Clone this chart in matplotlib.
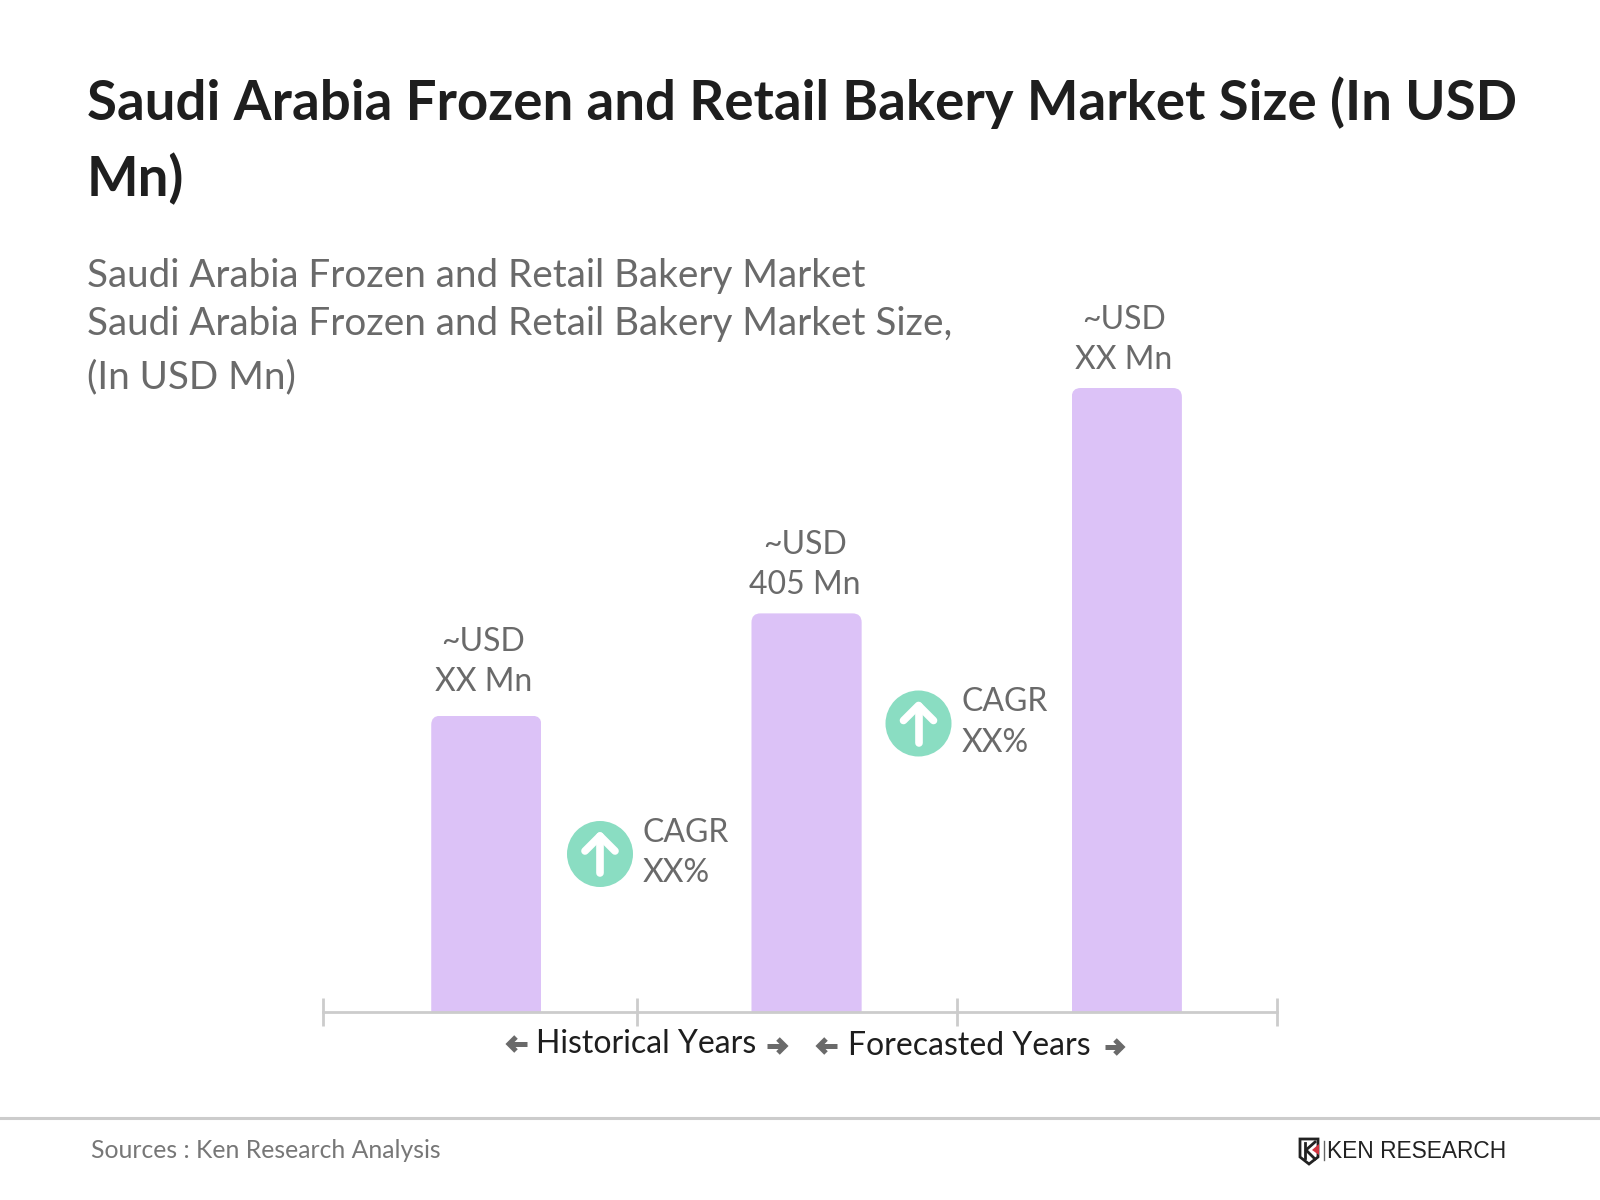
import matplotlib.pyplot as plt
from matplotlib.patches import Circle, FancyBboxPatch, Polygon

plt.rcParams["font.family"] = ["Lato", "DejaVu Sans"]

categories = [0, 1, 2]
values = [301, 405, 634]
bar_labels = ["~USD\nXX Mn", "~USD\n405 Mn", "~USD\nXX Mn"]
tick_positions = [-0.51, 0.472, 1.47, 2.469]
title_lines = ["Saudi Arabia Frozen and Retail Bakery Market Size (In USD", "Mn)"]
subtitle_lines = [
    "Saudi Arabia Frozen and Retail Bakery Market",
    "Saudi Arabia Frozen and Retail Bakery Market Size,",
    "(In USD Mn)",
]
cagr_labels = ["CAGR\nXX%", "CAGR\nXX%"]

PURPLE = "#DCC2F7"
GREEN = "#8ADDC2"
GREY = "#6A6A6A"
DARK = "#1E1E1E"
LINE = "#CCCCCC"

fig = plt.figure(figsize=(16, 12), dpi=100, facecolor="white")

# overlay in pixel coordinates for the page furniture
page = fig.add_axes([0, 0, 1, 1])
page.set_xlim(0, 1600)
page.set_ylim(1200, 0)
page.axis("off")

# chart axes: left 323px, right 1277px, baseline 1012px
ax = fig.add_axes([323 / 1600, (1200 - 1012) / 1200, 954 / 1600, 760 / 1200])
ax.patch.set_visible(False)
ax.set_xlim(-0.51, 2.469)
ax.set_ylim(0, 760 / (1012 - 388) * 634)
for s in ["top", "left", "right"]:
    ax.spines[s].set_visible(False)
ax.spines["bottom"].set_color(LINE)
ax.spines["bottom"].set_linewidth(2)
ax.set_yticks([])
ax.set_xticks(tick_positions)
ax.set_xticklabels([])
ax.tick_params(axis="x", direction="inout", length=20, width=2, color=LINE)

bars = ax.bar(categories, values, width=0.344, color=PURPLE, zorder=1)

# rounded top corners
px_x = 954 / 2.979
px_y = 760 / ax.get_ylim()[1]
for b in bars:
    clip = FancyBboxPatch(
        (b.get_x(), -100),
        b.get_width(),
        b.get_height() + 100,
        boxstyle="round,pad=0,rounding_size=%f" % (9 / px_x),
        mutation_aspect=px_x / px_y,
        transform=ax.transData,
    )
    b.set_clip_path(clip)

label_offsets = [19, 13, 13]
label_shift = [-3, -2, -3]
for x, v, lab, off, dx in zip(categories, values, bar_labels, label_offsets, label_shift):
    ax.annotate(
        lab,
        (x, v),
        xytext=(dx, off),
        textcoords="offset pixels",
        ha="center",
        va="bottom",
        fontsize=23,
        color=GREY,
        linespacing=1.42,
        annotation_clip=False,
    )

# title and subtitle
for y, t in zip([120, 196], title_lines):
    page.text(87, y, t, fontsize=39.3, fontweight="bold", color=DARK, va="baseline")
for y, t in zip([287, 335, 388], subtitle_lines):
    page.text(87, y, t, fontsize=27.85, color=GREY, va="baseline")

# CAGR badges
for (cx, cy), lab in zip([(600, 854), (918.5, 723.5)], cagr_labels):
    page.add_patch(Circle((cx, cy), 33, color=GREEN, lw=0))
    page.plot([cx, cx], [cy - 18, cy + 19], color="white", lw=5.5, solid_capstyle="round")
    page.plot([cx - 15, cx, cx + 15], [cy - 3, cy - 18, cy - 3], color="white", lw=5.5,
              solid_capstyle="round", solid_joinstyle="round")
    page.text(cx + 43, cy - 1, lab, fontsize=23, color=GREY, va="center", linespacing=1.42)

# x axis captions
page.text(536, 1044, "Historical Years", fontsize=23, color=DARK, va="center")
page.text(848, 1046, "Forecasted Years", fontsize=23, color=DARK, va="center")
for x0, x1, y in [(527, 509, 1044), (767, 785, 1046), (837, 819, 1046), (1105, 1122, 1047)]:
    d = 1 if x1 > x0 else -1
    page.plot([x0, x1], [y, y], color=GREY, lw=3.6, solid_capstyle="butt")
    page.plot([x1 - d * 7, x1, x1 - d * 7], [y - 7, y, y + 7], color=GREY, lw=3.6,
              solid_capstyle="butt", solid_joinstyle="miter")

# footer
page.plot([0, 1600], [1118, 1118], color=LINE, lw=2.2)
page.text(91, 1150, "Sources : Ken Research Analysis", fontsize=17.85, color="#777777", va="center")

# logo
page.add_patch(Polygon([(1300, 1139), (1318, 1139), (1318, 1157), (1309, 1164), (1300, 1157)],
                       closed=True, fc="white", ec="#222222", lw=2))
page.plot([1305, 1305], [1143, 1158], color="#222222", lw=2)
page.plot([1315, 1306, 1315], [1142, 1150, 1159], color="#222222", lw=2)
page.add_patch(Polygon([(1319, 1144), (1319, 1155), (1312, 1150)], closed=True, fc="#D2343F", lw=0))
page.plot([1324, 1324], [1141, 1160], color="#666666", lw=1)
page.text(1327, 1152, "KEN RESEARCH", fontsize=16.4, color="#222222", va="center", family=["Liberation Sans", "DejaVu Sans"])

fig.savefig("out.png", dpi=100)
